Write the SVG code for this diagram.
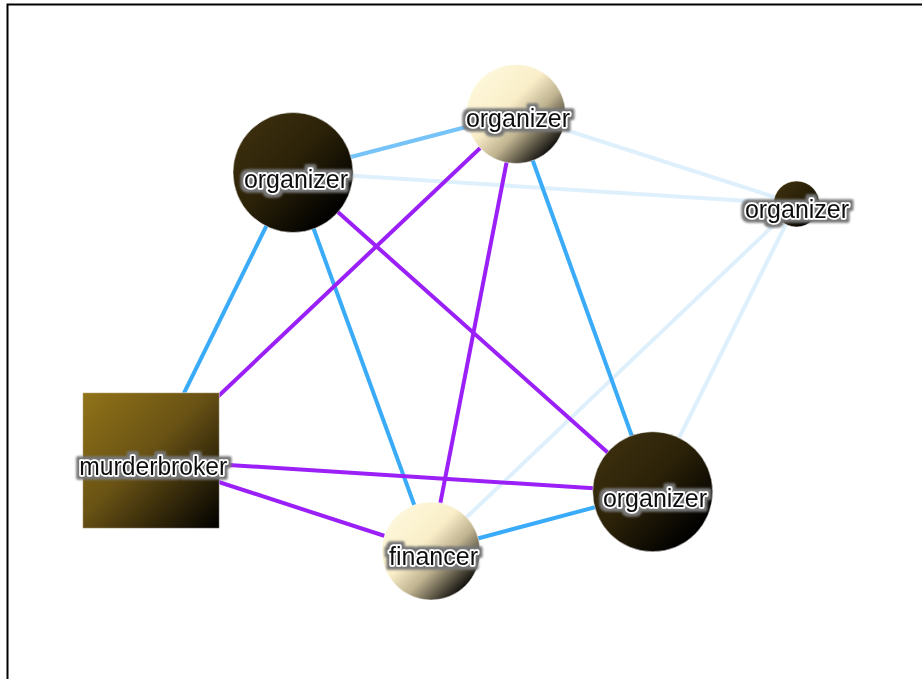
<svg xmlns="http://www.w3.org/2000/svg" width="922" height="679" viewBox="0 0 922 679">
<defs>
<linearGradient id="gDark" x1="0" y1="0" x2="1" y2="1">
<stop offset="0" stop-color="#403310"/>
<stop offset="0.45" stop-color="#2c2208"/>
<stop offset="0.85" stop-color="#000000"/>
</linearGradient>
<linearGradient id="gLight" x1="0" y1="0" x2="1" y2="1">
<stop offset="0" stop-color="#fffbe2"/>
<stop offset="0.42" stop-color="#f9eec8"/>
<stop offset="0.6" stop-color="#bfb390"/>
<stop offset="0.88" stop-color="#000000"/>
</linearGradient>
<linearGradient id="gSquare" x1="0" y1="0" x2="1" y2="1">
<stop offset="0" stop-color="#917318"/>
<stop offset="0.45" stop-color="#6a5314"/>
<stop offset="1" stop-color="#000000"/>
</linearGradient>
<filter id="halo" x="-20%" y="-40%" width="140%" height="180%">
<feMorphology in="SourceAlpha" operator="dilate" radius="2.6" result="d"/>
<feGaussianBlur in="d" stdDeviation="0.8" result="b"/>
<feFlood flood-color="#777"/>
<feComposite in2="b" operator="in" result="g"/>
<feMerge><feMergeNode in="g"/><feMergeNode in="SourceGraphic"/></feMerge>
</filter>
</defs>
<style>
.edge{fill:none;stroke-width:4;stroke-linecap:butt}
.blue{stroke:#3aabf8}
.blue2{stroke:#76c3f8}
.pale{stroke:#dff0fd}
.purple{stroke:#9b20f7}
.lbl{font-family:"Liberation Sans",Arial,Helvetica,sans-serif;font-size:25px;fill:#111;stroke:#fff;stroke-width:3.5;stroke-linejoin:round;paint-order:stroke;text-anchor:middle;filter:url(#halo)}
.nodeshape{stroke:#ffffff;stroke-opacity:0.5;stroke-width:1}
</style>
<rect x="0" y="0" width="922" height="679" fill="#ffffff"/>
<rect x="7.5" y="4.5" width="1000" height="1000" fill="none" stroke="#000" stroke-width="2"/>
<g id="connectors">
<line class="edge pale" x1="293" y1="172" x2="796" y2="204"/>
<line class="edge pale" x1="516" y1="114" x2="796" y2="204"/>
<line class="edge pale" x1="796" y1="204" x2="431" y2="551"/>
<line class="edge pale" x1="796" y1="204" x2="652" y2="492"/>
<line class="edge blue2" x1="293" y1="172" x2="516" y2="114"/>
<line class="edge blue" x1="293" y1="172" x2="151" y2="460"/>
<line class="edge blue" x1="293" y1="172" x2="431" y2="551"/>
<line class="edge blue" x1="516" y1="114" x2="652" y2="492"/>
<line class="edge blue" x1="431" y1="551" x2="652" y2="492"/>
<line class="edge purple" x1="293" y1="172" x2="652" y2="492"/>
<line class="edge purple" x1="516" y1="114" x2="151" y2="460"/>
<line class="edge purple" x1="516" y1="114" x2="431" y2="551"/>
<line class="edge purple" x1="151" y1="460" x2="652" y2="492"/>
<line class="edge purple" x1="151" y1="460" x2="431" y2="551"/>
</g>
<g id="node-organizer-1">
<circle class="nodeshape" cx="293" cy="172.5" r="60" fill="url(#gDark)"/>
<text class="lbl" x="296" y="188">organizer</text>
</g>
<g id="node-organizer-2">
<circle class="nodeshape" cx="516" cy="114" r="49.5" fill="url(#gLight)"/>
<text class="lbl" x="518" y="127">organizer</text>
</g>
<g id="node-organizer-3">
<circle class="nodeshape" cx="796.5" cy="204" r="23" fill="url(#gDark)"/>
<text class="lbl" x="797" y="218">organizer</text>
</g>
<g id="node-organizer-4">
<circle class="nodeshape" cx="652.7" cy="491.7" r="60" fill="url(#gDark)"/>
<text class="lbl" x="655" y="506.5">organizer</text>
</g>
<g id="node-financer">
<circle class="nodeshape" cx="431" cy="551" r="49" fill="url(#gLight)"/>
<text class="lbl" x="433.5" y="565">financer</text>
</g>
<g id="node-murderbroker">
<rect class="nodeshape" x="82.7" y="392.7" width="136.6" height="135.6" fill="url(#gSquare)"/>
<text class="lbl" x="153.3" y="475" textLength="148" lengthAdjust="spacingAndGlyphs">murderbroker</text>
</g>
</svg>
